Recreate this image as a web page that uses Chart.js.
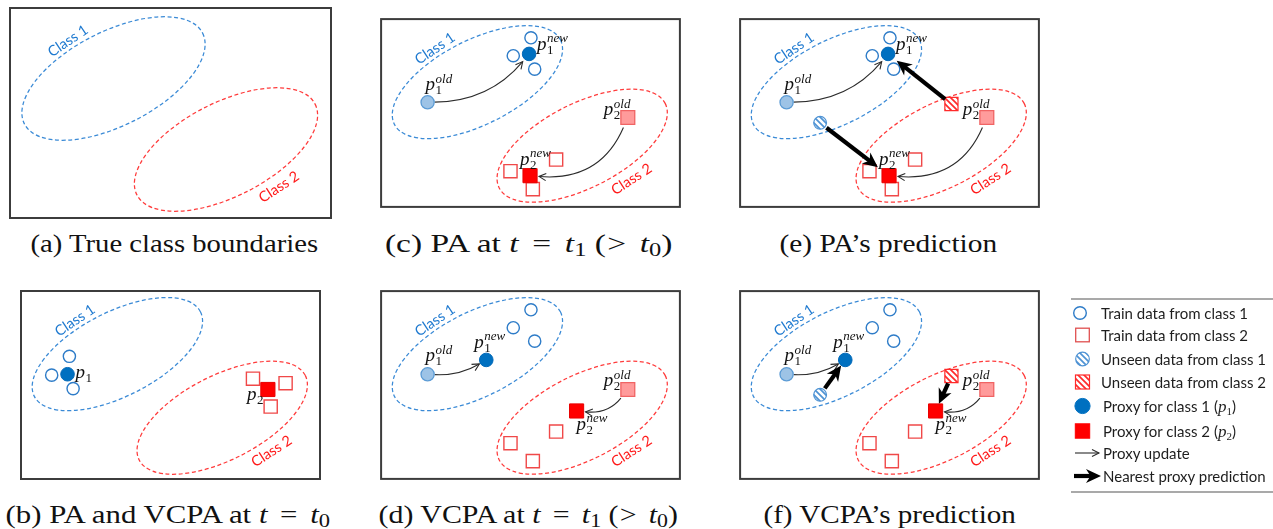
<!DOCTYPE html>
<html>
<head>
<meta charset="utf-8">
<title>Proxy update and prediction: PA vs VCPA</title>
<script src="https://cdn.jsdelivr.net/npm/chart.js@4.4.1/dist/chart.umd.min.js"></script>
<style>
  html, body { margin: 0; padding: 0; background: #fff; }
  body { position: relative; width: 1273px; height: 529px; overflow: hidden; }
  .panel { position: absolute; }
  .cap {
    position: absolute; white-space: nowrap;
    font-family: "Liberation Serif", "DejaVu Serif", serif; font-size: 26px; line-height: 30px;
    color: #111; transform-origin: center;
  }
  .cap sub { font-size: 19px; vertical-align: -4px; line-height: 0; }
  .cap .rel { display: inline-block; margin: 0 0.16em; }
  .cap .rel0 { display: inline-block; margin: 0 0.16em 0 0.04em; }
  .legend-rule { position: absolute; left: 1071px; width: 202px; height: 0; border-top: 2px solid #a9a9a9; }
  #legendIcons { position: absolute; left: 1063px; top: 300px; }
  .li {
    position: absolute; white-space: nowrap; font-family: Lato, "Open Sans", sans-serif;
    font-size: 15px; line-height: 20px; color: #1e1e1e;
  }
  .li i { font-family: "Liberation Serif", serif; font-size: 17px; }
  .li sub { font-family: "Liberation Serif", serif; font-size: 11px; vertical-align: -3px; line-height: 0; }
</style>
</head>
<body>

<canvas class="panel" id="pa" width="323" height="212" style="left:9px;top:7px"></canvas>
<canvas class="panel" id="pc" width="323" height="212" style="left:369px;top:7px"></canvas>
<canvas class="panel" id="pe" width="323" height="212" style="left:728px;top:7px"></canvas>
<canvas class="panel" id="pb" width="323" height="212" style="left:9px;top:279px"></canvas>
<canvas class="panel" id="pd" width="323" height="212" style="left:369px;top:279px"></canvas>
<canvas class="panel" id="pf" width="323" height="212" style="left:728px;top:279px"></canvas>

<div class="cap" data-cx="174" data-w="288" style="top:229px">(a) True class boundaries</div>
<div class="cap" data-cx="528.5" data-w="287" style="top:229px">(c) PA at <i>t</i> <span class="rel">=</span> <i>t</i><sub>1</sub> (<span class="rel0">&gt;</span> <i>t</i><sub>0</sub>)</div>
<div class="cap" data-cx="888.5" data-w="218" style="top:229px">(e) PA’s prediction</div>
<div class="cap" data-cx="167.5" data-w="325" style="top:500px">(b) PA and VCPA at <i>t</i> <span class="rel">=</span> <i>t</i><sub>0</sub></div>
<div class="cap" data-cx="528" data-w="300" style="top:500px">(d) VCPA at <i>t</i> <span class="rel">=</span> <i>t</i><sub>1</sub> (<span class="rel0">&gt;</span> <i>t</i><sub>0</sub>)</div>
<div class="cap" data-cx="889" data-w="252" style="top:500px">(f) VCPA’s prediction</div>

<div class="legend-rule" style="top:298px"></div>
<div class="legend-rule" style="top:491px"></div>
<canvas id="legendIcons" width="45" height="190"></canvas>
<div class="li" style="left:1101px;top:303px">Train data from class 1</div>
<div class="li" style="left:1101px;top:325px">Train data from class 2</div>
<div class="li" style="left:1101px;top:349px">Unseen data from class 1</div>
<div class="li" style="left:1101px;top:372px">Unseen data from class 2</div>
<div class="li" style="left:1103px;top:396px">Proxy for class 1 (<i>p</i><sub>1</sub>)</div>
<div class="li" style="left:1103px;top:421px">Proxy for class 2 (<i>p</i><sub>2</sub>)</div>
<div class="li" style="left:1103px;top:443px">Proxy update</div>
<div class="li" style="left:1103px;top:466px">Nearest proxy prediction</div>

<script>
// ---- Values, in panel units (x: 0–323 to the right, y: 0–212 downward) ----

// True class regions: centre x, centre y, semi-major, semi-minor, tilt (degrees)
const class1Region = [104.5, 71.5, 100, 47, 27];
const class2Region = [217, 142.5, 100, 47, 27];

// Training samples seen at t0 and at t1
const trainClass1_t0 = [[53, 74], [34, 95], [57, 110]];
const trainClass2_t0 = [[250, 99], [285, 104], [269, 130]];
const trainClass1_t1 = [[162, 22], [143, 42], [166, 57]];
const trainClass2_t1 = [[189, 158], [140, 171], [164, 191]];

// Unseen test samples
const unseenClass1 = [[87, 117]];
const unseenClass2 = [[228, 96]];

// Proxies: initial, after a PA update, after a VCPA update
const proxy1_t0 = [51, 94];
const proxy2_t0 = [266, 111];
const proxy1_PA = [160, 40];
const proxy2_PA = [161, 176];
const proxy1_VCPA = [114, 78];
const proxy2_VCPA = [211, 135];

// ---- Styling ----
const BLUE_LINE = '#3a8ad6';
const RED_LINE = '#ff3b3b';
const BLUE_TEXT = '#1f7ad0';
const RED_TEXT = '#ff1a1a';
const LABEL_FONT = '"Liberation Serif", "DejaVu Serif", serif';

function hatch(color) {
  const c = document.createElement('canvas');
  c.width = 6; c.height = 6;
  const g = c.getContext('2d');
  g.fillStyle = '#fff'; g.fillRect(0, 0, 6, 6);
  g.strokeStyle = color; g.lineWidth = 1.7;
  g.beginPath();
  g.moveTo(-3, 3); g.lineTo(3, 9);
  g.moveTo(0, 0); g.lineTo(6, 6);
  g.moveTo(3, -3); g.lineTo(9, 3);
  g.stroke();
  return g.createPattern(c, 'repeat');
}
const blueHatch = hatch('#4f93d4');
const redHatch = hatch('#ff2a2a');

const markStyles = {
  train1:  { pointStyle: 'circle', pointRadius: 6.1, pointBackgroundColor: '#fff', pointBorderColor: '#2e7cc8', pointBorderWidth: 1.4 },
  train2:  { pointStyle: 'rect', pointRadius: 9.3, pointBackgroundColor: '#fff', pointBorderColor: '#f04848', pointBorderWidth: 1.4 },
  unseen1: { pointStyle: 'circle', pointRadius: 6.4, pointBackgroundColor: blueHatch, pointBorderColor: '#4f93d4', pointBorderWidth: 1.2 },
  unseen2: { pointStyle: 'rect', pointRadius: 9.3, pointBackgroundColor: redHatch, pointBorderColor: '#ff2a2a', pointBorderWidth: 1.2 },
  p1old:   { pointStyle: 'circle', pointRadius: 6.6, pointBackgroundColor: '#9dc3e6', pointBorderColor: '#5b9bd5', pointBorderWidth: 1.3 },
  p1new:   { pointStyle: 'circle', pointRadius: 6.8, pointBackgroundColor: '#0070c0', pointBorderColor: '#0068b8', pointBorderWidth: 1 },
  p2old:   { pointStyle: 'rect', pointRadius: 9.8, pointBackgroundColor: '#ff9b9b', pointBorderColor: '#f06464', pointBorderWidth: 1.3 },
  p2new:   { pointStyle: 'rect', pointRadius: 10, pointBackgroundColor: '#ff0000', pointBorderColor: '#e80000', pointBorderWidth: 1 }
};

function dataset(points, style) {
  return Object.assign({ data: points.map(([x, y]) => ({ x, y })), showLine: false }, markStyles[style]);
}

// ---- Panel contents ----
const panelSpecs = {
  pa: { sets: [], arrows: [], labels: [] },
  pb: {
    sets: [[[proxy1_t0], 'p1new'], [[proxy2_t0], 'p2new'], [trainClass1_t0, 'train1'], [trainClass2_t0, 'train2']],
    arrows: [],
    labels: [
      { at: proxy1_t0, sub: '1', dx: 8, dy: 4 },
      { at: proxy2_t0, sub: '2', dx: -21, dy: 11 }
    ]
  },
  pc: {
    sets: [[[proxy1_t0], 'p1old'], [[proxy1_PA], 'p1new'], [[proxy2_t0], 'p2old'], [[proxy2_PA], 'p2new'],
           [trainClass1_t1, 'train1'], [trainClass2_t1, 'train2']],
    arrows: [
      { from: proxy1_t0, to: proxy1_PA, kind: 'update', bend: 0.23, g0: 7, g1: 10 },
      { from: proxy2_t0, to: proxy2_PA, kind: 'update', bend: -0.36, g0: 11, g1: 9 }
    ],
    labels: [
      { at: proxy1_t0, sup: 'old', sub: '1', dx: -2, dy: -12 },
      { at: proxy1_PA, sup: 'new', sub: '1', dx: 8, dy: -4 },
      { at: proxy2_t0, sup: 'old', sub: '2', dx: -24, dy: -2 },
      { at: proxy2_PA, sup: 'new', sub: '2', dx: -10, dy: -11 }
    ]
  },
  pe: {
    sets: [[[proxy1_t0], 'p1old'], [[proxy1_PA], 'p1new'], [[proxy2_t0], 'p2old'], [[proxy2_PA], 'p2new'],
           [unseenClass1, 'unseen1'], [unseenClass2, 'unseen2'],
           [trainClass1_t1, 'train1'], [trainClass2_t1, 'train2']],
    arrows: [
      { from: proxy1_t0, to: proxy1_PA, kind: 'update', bend: 0.23, g0: 7, g1: 10 },
      { from: proxy2_t0, to: proxy2_PA, kind: 'update', bend: -0.36, g0: 11, g1: 9 },
      { from: unseenClass1[0], to: proxy2_PA, kind: 'predict', bend: 0, g0: 8, g1: 14 },
      { from: unseenClass2[0], to: proxy1_PA, kind: 'predict', bend: 0, g0: 8, g1: 11 }
    ],
    labels: [
      { at: proxy1_t0, sup: 'old', sub: '1', dx: -2, dy: -12 },
      { at: proxy1_PA, sup: 'new', sub: '1', dx: 8, dy: -4 },
      { at: proxy2_t0, sup: 'old', sub: '2', dx: -24, dy: -2 },
      { at: proxy2_PA, sup: 'new', sub: '2', dx: -10, dy: -11 }
    ]
  },
  pd: {
    sets: [[[proxy1_t0], 'p1old'], [[proxy1_VCPA], 'p1new'], [[proxy2_t0], 'p2old'], [[proxy2_VCPA], 'p2new'],
           [trainClass1_t1, 'train1'], [trainClass2_t1, 'train2']],
    arrows: [
      { from: proxy1_t0, to: proxy1_VCPA, kind: 'update', bend: 0.15, g0: 7, g1: 8 },
      { from: proxy2_t0, to: proxy2_VCPA, kind: 'update', bend: -0.27, g0: 11, g1: 9 }
    ],
    labels: [
      { at: proxy1_t0, sup: 'old', sub: '1', dx: -2, dy: -13 },
      { at: proxy1_VCPA, sup: 'new', sub: '1', dx: -12, dy: -12 },
      { at: proxy2_t0, sup: 'old', sub: '2', dx: -24, dy: -3 },
      { at: proxy2_VCPA, sup: 'new', sub: '2', dx: 0, dy: 19 }
    ]
  },
  pf: {
    sets: [[[proxy1_t0], 'p1old'], [[proxy1_VCPA], 'p1new'], [[proxy2_t0], 'p2old'], [[proxy2_VCPA], 'p2new'],
           [unseenClass1, 'unseen1'], [unseenClass2, 'unseen2'],
           [trainClass1_t1, 'train1'], [trainClass2_t1, 'train2']],
    arrows: [
      { from: proxy1_t0, to: proxy1_VCPA, kind: 'update', bend: 0.15, g0: 7, g1: 8 },
      { from: proxy2_t0, to: proxy2_VCPA, kind: 'update', bend: -0.27, g0: 11, g1: 9 },
      { from: unseenClass1[0], to: proxy1_VCPA, kind: 'predict', bend: 0, g0: 8, g1: 7 },
      { from: unseenClass2[0], to: proxy2_VCPA, kind: 'predict', bend: 0, g0: 8, g1: 8 }
    ],
    labels: [
      { at: proxy1_t0, sup: 'old', sub: '1', dx: -2, dy: -13 },
      { at: proxy1_VCPA, sup: 'new', sub: '1', dx: -12, dy: -12 },
      { at: proxy2_t0, sup: 'old', sub: '2', dx: -24, dy: -3 },
      { at: proxy2_VCPA, sup: 'new', sub: '2', dx: 0, dy: 19 }
    ]
  }
};

// ---- Drawing helpers ----
function drawRegion(ctx, xs, ys, region, color) {
  const [cx, cy, a, b, tilt] = region;
  const px = xs.getPixelForValue(cx), py = ys.getPixelForValue(cy);
  const ra = Math.abs(xs.getPixelForValue(cx + a) - px);
  const rb = Math.abs(ys.getPixelForValue(cy + b) - py);
  ctx.save();
  ctx.strokeStyle = color; ctx.lineWidth = 1.25; ctx.setLineDash([4, 2.6]);
  ctx.beginPath();
  ctx.ellipse(px, py, ra, rb, -tilt * Math.PI / 180, 0, Math.PI * 2);
  ctx.stroke();
  ctx.restore();
}

function rotatedText(ctx, text, x, y, angle, color) {
  ctx.save();
  ctx.translate(x, y); ctx.rotate(angle * Math.PI / 180);
  ctx.font = '14.5px Lato, "Open Sans", sans-serif';
  ctx.fillStyle = color; ctx.textAlign = 'center'; ctx.textBaseline = 'middle';
  ctx.fillText(text, 0, 0);
  ctx.restore();
}

function arrowHead(ctx, tip, dir, kind) {
  const [ux, uy] = dir, nx = -uy, ny = ux;
  if (kind === 'update') {
    const L = 7, W = 3.6;
    ctx.beginPath();
    ctx.moveTo(tip[0] - ux * L + nx * W, tip[1] - uy * L + ny * W);
    ctx.lineTo(tip[0], tip[1]);
    ctx.lineTo(tip[0] - ux * L - nx * W, tip[1] - uy * L - ny * W);
    ctx.stroke();
  } else {
    const L = 15, W = 7, notch = 4.5;
    ctx.beginPath();
    ctx.moveTo(tip[0], tip[1]);
    ctx.lineTo(tip[0] - ux * L + nx * W, tip[1] - uy * L + ny * W);
    ctx.lineTo(tip[0] - ux * (L - notch), tip[1] - uy * (L - notch));
    ctx.lineTo(tip[0] - ux * L - nx * W, tip[1] - uy * L - ny * W);
    ctx.closePath();
    ctx.fill();
  }
}

function drawArrow(ctx, P, Q, spec) {
  const dx = Q[0] - P[0], dy = Q[1] - P[1], L = Math.hypot(dx, dy);
  const ux = dx / L, uy = dy / L, nx = -uy, ny = ux;
  const C = [(P[0] + Q[0]) / 2 + nx * spec.bend * L, (P[1] + Q[1]) / 2 + ny * spec.bend * L];
  const unit = (A, B) => { const l = Math.hypot(B[0] - A[0], B[1] - A[1]); return [(B[0] - A[0]) / l, (B[1] - A[1]) / l]; };
  const s0 = unit(P, C), s1 = unit(Q, C);
  const S = [P[0] + s0[0] * spec.g0, P[1] + s0[1] * spec.g0];
  const T = [Q[0] + s1[0] * spec.g1, Q[1] + s1[1] * spec.g1];
  const dirEnd = [-s1[0], -s1[1]];
  ctx.save();
  ctx.lineCap = 'butt';
  if (spec.kind === 'update') {
    ctx.strokeStyle = '#2b2b2b'; ctx.lineWidth = 1.1;
    ctx.beginPath(); ctx.moveTo(S[0], S[1]); ctx.quadraticCurveTo(C[0], C[1], T[0], T[1]); ctx.stroke();
    arrowHead(ctx, T, dirEnd, 'update');
  } else {
    ctx.strokeStyle = '#000'; ctx.fillStyle = '#000'; ctx.lineWidth = 4.2;
    const stop = [T[0] - dirEnd[0] * 10, T[1] - dirEnd[1] * 10];
    ctx.beginPath(); ctx.moveTo(S[0], S[1]); ctx.lineTo(stop[0], stop[1]); ctx.stroke();
    arrowHead(ctx, T, dirEnd, 'predict');
  }
  ctx.restore();
}

function proxyLabel(ctx, x, y, sup, sub) {
  ctx.save();
  ctx.fillStyle = '#111'; ctx.textBaseline = 'alphabetic'; ctx.textAlign = 'left';
  ctx.font = 'italic 19px ' + LABEL_FONT;
  ctx.fillText('p', x, y);
  const w = ctx.measureText('p').width + 0.5;
  if (sup) { ctx.font = 'italic 13px ' + LABEL_FONT; ctx.fillText(sup, x + w, y - 7.5); }
  if (sub) { ctx.font = '13px ' + LABEL_FONT; ctx.fillText(sub, x + w, y + 4); }
  ctx.restore();
}

function overlay(spec) {
  return {
    id: 'diagramOverlay',
    beforeDatasetsDraw(chart) {
      const { ctx, scales: { x, y } } = chart;
      drawRegion(ctx, x, y, class1Region, BLUE_LINE);
      drawRegion(ctx, x, y, class2Region, RED_LINE);
      rotatedText(ctx, 'Class 1', x.getPixelForValue(59), y.getPixelForValue(34), -34, BLUE_TEXT);
      rotatedText(ctx, 'Class 2', x.getPixelForValue(270), y.getPixelForValue(180), -33, RED_TEXT);
      spec.arrows.filter(a => a.kind === 'update').forEach(a => {
        drawArrow(ctx, [x.getPixelForValue(a.from[0]), y.getPixelForValue(a.from[1])],
                       [x.getPixelForValue(a.to[0]), y.getPixelForValue(a.to[1])], a);
      });
    },
    afterDatasetsDraw(chart) {
      const { ctx, scales: { x, y } } = chart;
      spec.arrows.filter(a => a.kind === 'predict').forEach(a => {
        drawArrow(ctx, [x.getPixelForValue(a.from[0]), y.getPixelForValue(a.from[1])],
                       [x.getPixelForValue(a.to[0]), y.getPixelForValue(a.to[1])], a);
      });
      spec.labels.forEach(l => {
        proxyLabel(ctx, x.getPixelForValue(l.at[0]) + l.dx, y.getPixelForValue(l.at[1]) + l.dy, l.sup, l.sub);
      });
    },
    afterDraw(chart) {
      const { ctx, chartArea: a } = chart;
      ctx.save();
      ctx.strokeStyle = '#3c3c3c'; ctx.lineWidth = 2;
      ctx.strokeRect(a.left + 1, a.top + 1, a.right - a.left - 2, a.bottom - a.top - 2);
      ctx.restore();
    }
  };
}

Object.entries(panelSpecs).forEach(([id, spec]) => {
  new Chart(document.getElementById(id), {
    type: 'scatter',
    data: { datasets: spec.sets.map(([pts, style]) => dataset(pts, style)) },
    options: {
      responsive: false, animation: false, events: [],
      layout: { padding: 0 },
      plugins: { legend: { display: false }, tooltip: { enabled: false } },
      scales: {
        x: { type: 'linear', min: 0, max: 323, display: false },
        y: { type: 'linear', min: 0, max: 212, reverse: true, display: false }
      }
    },
    plugins: [overlay(spec)]
  });
});

// ---- Captions: centre each under its panel and fit to its set width ----
document.querySelectorAll('.cap').forEach(el => {
  const w = el.offsetWidth;
  const cx = parseFloat(el.dataset.cx), target = parseFloat(el.dataset.w);
  el.style.left = (cx - w / 2) + 'px';
  el.style.transform = 'scaleX(' + (target / w).toFixed(3) + ')';
});

// ---- Legend symbols ----
(function () {
  const ctx = document.getElementById('legendIcons').getContext('2d');
  const ox = 1063, oy = 300;
  const at = (x, y) => [x - ox, y - oy];
  function circle(c, r, fill, stroke, lw) {
    ctx.beginPath(); ctx.arc(c[0], c[1], r, 0, Math.PI * 2);
    ctx.fillStyle = fill; ctx.fill();
    ctx.lineWidth = lw; ctx.strokeStyle = stroke; ctx.stroke();
  }
  function square(c, h, fill, stroke, lw) {
    ctx.fillStyle = fill; ctx.fillRect(c[0] - h, c[1] - h, 2 * h, 2 * h);
    ctx.lineWidth = lw; ctx.strokeStyle = stroke; ctx.strokeRect(c[0] - h, c[1] - h, 2 * h, 2 * h);
  }
  circle(at(1080, 313), 6.3, '#fff', '#2e7cc8', 1.4);
  square(at(1082.5, 335), 6.8, '#fff', '#e05050', 1.3);
  circle(at(1082.5, 359), 6.8, blueHatch, '#4f93d4', 1.2);
  square(at(1082.5, 382), 7, redHatch, '#ff2a2a', 1.2);
  circle(at(1082.5, 406), 7.6, '#0070c0', '#0070c0', 1);
  square(at(1082.5, 431), 7.2, '#ff0000', '#ff0000', 1);
  drawArrow(ctx, at(1075, 453), at(1099, 453), { kind: 'update', bend: 0, g0: 0, g1: 0 });
  drawArrow(ctx, at(1074, 476), at(1101, 476), { kind: 'predict', bend: 0, g0: 0, g1: 0 });
})();
</script>
</body>
</html>
